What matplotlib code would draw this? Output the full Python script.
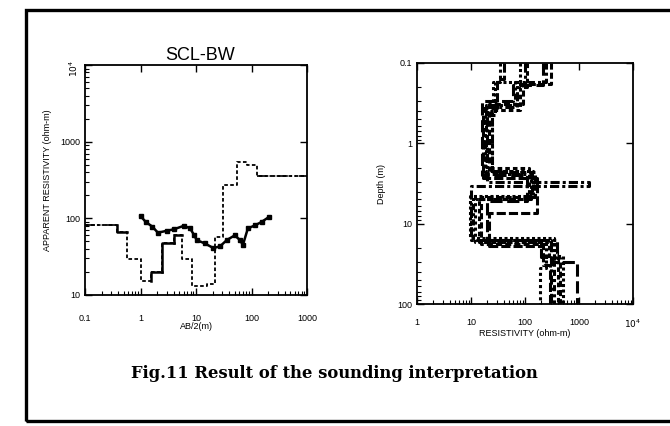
import numpy as np
import matplotlib.pyplot as plt
from matplotlib.patches import Rectangle

# ---- left panel: sounding curve SCL-BW ----
obs_ab2 = [1.0, 1.24, 1.63, 2.06, 3.04, 4.0, 6.06, 7.8, 9.2, 10.3, 14.5, 20.5,
           27, 35.8, 50, 62, 70, 86, 116, 153, 210]
obs_rho = [107, 90, 78, 65, 69, 72, 80, 74, 61, 52, 47, 41,
           43, 52, 60, 52, 45, 74, 81, 90, 105]

# layered model curve (step): edges in AB/2 and resistivity of each step
step_edges = [0.1, 0.38, 0.57, 1.0, 1.55, 2.4, 4.0, 5.6, 8.5, 16, 22, 31, 55, 83, 125, 1000]
step_rho = [82, 66, 29.5, 15, 20, 48, 60, 29.5, 13, 14, 57, 270, 540, 490, 360]

left_xticks = [0.1, 1, 10, 100, 1000]
left_xlabels = ['0.1', '1', '10', '100', '1000']
left_yticks = [10, 100, 1000, 10000]
left_ylabels = ['10', '100', '1000', '$10^4$']

# ---- right panel: equivalent layered models (depth vs resistivity) ----
model_depths = [
    [0.17, 0.40, 2.2, 5.0, 17, 36],
    [0.18, 0.35, 3.0, 3.4, 16, 26],
    [0.18, 0.32, 2.3, 4.7, 18, 27],
    [0.19, 0.30, 2.5, 5.2, 16, 30],
    [0.17, 0.45, 2.2, 4.5, 15, 25],
    [0.16, 0.36, 2.7, 7.3, 19, 33],
    [0.20, 0.38, 2.0, 4.9, 17, 28],
    [0.17, 0.33, 2.4, 5.0, 16, 24],
]
model_rho = [
    [35, 26, 18, 130, 12, 250, 190],
    [100, 70, 20, 1500, 10, 200, 300],
    [300, 90, 22, 150, 15, 390, 450],
    [215, 60, 16, 110, 20, 300, 920],
    [80, 28, 24, 140, 9.5, 350, 500],
    [40, 30, 17, 165, 22, 220, 290],
    [107, 80, 25, 120, 14, 280, 400],
    [250, 65, 19, 135, 11, 390, 350],
]
right_xticks = [1, 10, 100, 1000, 10000]
right_xlabels = ['1', '10', '100', '1000', '$10^4$']
right_yticks = [0.1, 1, 10, 100]
right_ylabels = ['0.1', '1', '10', '100']

plt.rcParams['font.family'] = ['Liberation Sans', 'DejaVu Sans']

fig = plt.figure(figsize=(6.7, 4.26), dpi=100)
fig.patch.set_facecolor('white')

# outer frame of the figure box
W, H = 670, 426
fig.add_artist(Rectangle((26 / W, 5 / H), 1.2, 411 / H, transform=fig.transFigure,
                         fill=False, lw=2.4, ec='black'))


def style_axes(ax):
    ax.tick_params(which='both', direction='in', top=True, right=True, labelsize=6.5)
    ax.tick_params(which='major', length=5, width=1)
    ax.tick_params(which='minor', length=3, width=0.8, top=False, right=False)
    for s in ax.spines.values():
        s.set_linewidth(1.3)


# left
ax1 = fig.add_axes([85 / W, 1 - 295 / H, 222 / W, 230 / H])
ax1.set_xscale('log')
ax1.set_yscale('log')
ax1.set_xlim(0.1, 1000)
ax1.set_ylim(10, 10000)

# step model, dashed overall with some solid pieces
sx = np.repeat(step_edges, 2)[1:-1]
sy = np.repeat(step_rho, 2)
ax1.plot(sx, sy, color='black', lw=1.3, ls=(0, (2, 1.3)))
for k in [1, 4, 5, 6]:
    ax1.plot([step_edges[k], step_edges[k], step_edges[k + 1]],
             [step_rho[k - 1], step_rho[k], step_rho[k]], color='black', lw=1.8, ls='-')
for k in [0, 14]:
    ax1.plot([step_edges[k], step_edges[k + 1]], [step_rho[k], step_rho[k]],
             color='black', lw=1.2, ls=(0, (6, 1.5, 1, 1.5, 1, 1.5)))

ax1.plot(obs_ab2, obs_rho, color='black', lw=1.8, marker='s', ms=3.2)

ax1.set_xticks(left_xticks)
ax1.set_xticklabels(left_xlabels)
ax1.set_yticks(left_yticks)
ax1.set_yticklabels(left_ylabels)
style_axes(ax1)
ax1.tick_params(axis='x', pad=14)
ax1.get_yticklabels()[-1].set_rotation(90)
ax1.set_xlabel('AB/2(m)', fontsize=6.5, labelpad=-1)
ax1.set_ylabel('APPARENT RESISTIVITY (ohm-m)', fontsize=6.5, labelpad=6)
fig.text(200 / W, 1 - 55 / H, 'SCL-BW', fontsize=13, ha='center', va='center')

# right
ax2 = fig.add_axes([417 / W, 1 - 304 / H, 216 / W, 241 / H])
ax2.set_xscale('log')
ax2.set_yscale('log')
ax2.set_xlim(1, 10000)
ax2.set_ylim(100, 0.1)

model_styles = [(0, (1, 1)), (0, (3, 1, 1, 1)), (0, (2, 1)), (0, (4, 1.5)),
                (0, (1, 0.8)), (0, (3, 1)), (0, (1.5, 1)), (0, (2, 1, 1, 1))]
for d, r, ls in zip(model_depths, model_rho, model_styles):
    yy = np.repeat([0.1] + d + [100], 2)[1:-1]
    xx = np.repeat(r, 2)
    ax2.plot(xx, yy, color='black', lw=2.2, ls=ls)

ax2.set_xticks(right_xticks)
ax2.set_xticklabels(right_xlabels)
ax2.set_yticks(right_yticks)
ax2.set_yticklabels(right_ylabels)
style_axes(ax2)
ax2.tick_params(axis='x', pad=10)
ax2.set_xlabel('RESISTIVITY (ohm-m)', fontsize=6.5, labelpad=-1)
ax2.set_ylabel('Depth (m)', fontsize=6.5, labelpad=8)

# caption
fig.text(334 / W, 1 - 374 / H, 'Fig.11 Result of the sounding interpretation',
         fontsize=11.8, ha='center', va='center', fontweight='bold',
         family=['DejaVu Serif'])

fig.savefig('out.png', dpi=100, facecolor='white')
